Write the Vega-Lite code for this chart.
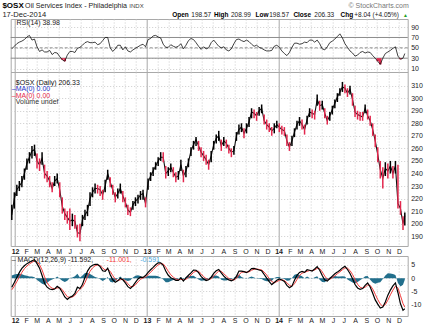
{
"$schema": "https://vega.github.io/schema/vega-lite/v6.json",
"background": "#ffffff",
"padding": {"left": 1.7, "top": 1.0, "right": 0, "bottom": 0},
"spacing": 0,
"bounds": "flush",
"resolve": {"scale": {"x": "independent", "y": "independent"}},
"config": {
  "font": "Liberation Sans",
  "view": {"stroke": "#a9a9a9"},
  "axis": {"labelFont": "Liberation Sans", "labelFontSize": 7, "labelColor": "#222222", "ticks": false, "tickSize": 0, "domain": false, "grid": true, "gridColor": "#cccccc", "gridDash": [1, 2], "title": null, "labelFlush": false, "labelOverlap": false}
},
"datasets": {"w": [
{"d":"2011-12-23","c":207,"hi":215,"lo":203,"u":"u","r":48,"m":-3.4,"s":-4.4,"h":1.0},
{"d":"2011-12-30","c":220,"hi":225,"lo":212,"u":"u","r":53,"m":-1.6,"s":-3.0,"h":1.4},
{"d":"2012-01-06","c":227,"hi":231,"lo":222,"u":"u","r":58,"m":0.3,"s":-1.3,"h":1.6},
{"d":"2012-01-13","c":230,"hi":234,"lo":226,"u":"u","r":61,"m":2.2,"s":0.5,"h":1.7},
{"d":"2012-01-20","c":233,"hi":238,"lo":229,"u":"u","r":63,"m":3.7,"s":2.2,"h":1.5},
{"d":"2012-01-27","c":240,"hi":244,"lo":235,"u":"u","r":66,"m":4.7,"s":3.6,"h":1.1},
{"d":"2012-02-03","c":248,"hi":252,"lo":243,"u":"u","r":71,"m":5.5,"s":4.6,"h":0.9},
{"d":"2012-02-10","c":253,"hi":257,"lo":248,"u":"u","r":74,"m":6.0,"s":5.4,"h":0.6},
{"d":"2012-02-17","c":258,"hi":262,"lo":252,"u":"u","r":65,"m":6.6,"s":6.0,"h":0.6},
{"d":"2012-02-24","c":259,"hi":263,"lo":254,"u":"u","r":67,"m":7.0,"s":6.6,"h":0.4},
{"d":"2012-03-02","c":250,"hi":256,"lo":244,"u":"d","r":52,"m":5.5,"s":6.2,"h":-0.7},
{"d":"2012-03-09","c":247,"hi":252,"lo":242,"u":"d","r":43,"m":3.8,"s":5.1,"h":-1.3},
{"d":"2012-03-16","c":252,"hi":257,"lo":247,"u":"u","r":46,"m":1.0,"s":3.1,"h":-2.1},
{"d":"2012-03-23","c":240,"hi":247,"lo":236,"u":"d","r":42,"m":-2.0,"s":0.5,"h":-2.5},
{"d":"2012-03-30","c":238,"hi":242,"lo":233,"u":"d","r":42,"m":-3.4,"s":-1.7,"h":-1.7},
{"d":"2012-04-06","c":234,"hi":238,"lo":229,"u":"d","r":45,"m":-4.1,"s":-3.1,"h":-1.0},
{"d":"2012-04-13","c":228,"hi":233,"lo":225,"u":"d","r":37,"m":-4.3,"s":-3.8,"h":-0.5},
{"d":"2012-04-20","c":234,"hi":238,"lo":230,"u":"u","r":41,"m":-4.1,"s":-4.0,"h":-0.1},
{"d":"2012-04-27","c":236,"hi":240,"lo":232,"u":"u","r":40,"m":-3.1,"s":-3.7,"h":0.6},
{"d":"2012-05-04","c":227,"hi":233,"lo":221,"u":"d","r":33,"m":-3.8,"s":-3.6,"h":-0.2},
{"d":"2012-05-11","c":214,"hi":221,"lo":208,"u":"d","r":27,"m":-5.3,"s":-4.3,"h":-1.0},
{"d":"2012-05-18","c":208,"hi":212,"lo":203,"u":"d","r":24,"m":-7.1,"s":-5.7,"h":-1.4},
{"d":"2012-05-25","c":205,"hi":210,"lo":200,"u":"d","r":36,"m":-8.0,"s":-7.0,"h":-1.0},
{"d":"2012-06-01","c":202,"hi":212,"lo":195,"u":"d","r":43,"m":-7.2,"s":-7.3,"h":0.1},
{"d":"2012-06-08","c":203,"hi":208,"lo":198,"u":"u","r":43,"m":-6.8,"s":-7.1,"h":0.3},
{"d":"2012-06-15","c":202,"hi":207,"lo":196,"u":"d","r":41,"m":-5.8,"s":-6.5,"h":0.7},
{"d":"2012-06-22","c":193,"hi":199,"lo":189,"u":"d","r":49,"m":-3.4,"s":-5.1,"h":1.7},
{"d":"2012-06-29","c":192,"hi":200,"lo":186,"u":"d","r":51,"m":-3.9,"s":-4.2,"h":0.3},
{"d":"2012-07-06","c":203,"hi":207,"lo":198,"u":"u","r":55,"m":-2.4,"s":-3.4,"h":1.0},
{"d":"2012-07-13","c":207,"hi":211,"lo":203,"u":"u","r":60,"m":0.3,"s":-1.7,"h":2.0},
{"d":"2012-07-20","c":210,"hi":215,"lo":206,"u":"u","r":62,"m":2.7,"s":0.6,"h":2.1},
{"d":"2012-07-27","c":220,"hi":225,"lo":214,"u":"u","r":60,"m":4.2,"s":2.6,"h":1.6},
{"d":"2012-08-03","c":225,"hi":229,"lo":221,"u":"u","r":60,"m":4.9,"s":3.9,"h":1.0},
{"d":"2012-08-10","c":228,"hi":232,"lo":224,"u":"u","r":61,"m":5.2,"s":4.7,"h":0.5},
{"d":"2012-08-17","c":228,"hi":231,"lo":224,"u":"d","r":56,"m":5.2,"s":5.0,"h":0.2},
{"d":"2012-08-24","c":227,"hi":230,"lo":222,"u":"d","r":58,"m":4.4,"s":4.8,"h":-0.4},
{"d":"2012-08-31","c":223,"hi":227,"lo":219,"u":"d","r":64,"m":2.8,"s":3.9,"h":-1.1},
{"d":"2012-09-07","c":230,"hi":235,"lo":225,"u":"u","r":70,"m":2.6,"s":3.1,"h":-0.5},
{"d":"2012-09-14","c":240,"hi":243,"lo":235,"u":"u","r":70,"m":3.8,"s":3.3,"h":0.5},
{"d":"2012-09-21","c":233,"hi":237,"lo":229,"u":"d","r":50,"m":1.3,"s":2.6,"h":-1.3},
{"d":"2012-09-28","c":227,"hi":231,"lo":223,"u":"d","r":43,"m":-0.6,"s":1.0,"h":-1.6},
{"d":"2012-10-05","c":221,"hi":225,"lo":217,"u":"d","r":48,"m":-1.5,"s":-0.4,"h":-1.1},
{"d":"2012-10-12","c":224,"hi":228,"lo":220,"u":"u","r":55,"m":-1.0,"s":-0.9,"h":-0.1},
{"d":"2012-10-19","c":228,"hi":232,"lo":224,"u":"u","r":55,"m":0.0,"s":-0.6,"h":0.6},
{"d":"2012-10-26","c":222,"hi":226,"lo":217,"u":"d","r":46,"m":-0.6,"s":-0.4,"h":-0.2},
{"d":"2012-11-02","c":217,"hi":221,"lo":213,"u":"d","r":52,"m":-1.8,"s":-1.0,"h":-0.8},
{"d":"2012-11-09","c":211,"hi":215,"lo":207,"u":"d","r":44,"m":-3.2,"s":-2.1,"h":-1.1},
{"d":"2012-11-16","c":209,"hi":213,"lo":206,"u":"d","r":42,"m":-3.9,"s":-3.1,"h":-0.8},
{"d":"2012-11-23","c":215,"hi":218,"lo":211,"u":"u","r":46,"m":-2.9,"s":-3.2,"h":0.3},
{"d":"2012-11-30","c":218,"hi":221,"lo":214,"u":"u","r":49,"m":-1.6,"s":-2.5,"h":0.9},
{"d":"2012-12-07","c":220,"hi":223,"lo":216,"u":"u","r":52,"m":-0.3,"s":-1.4,"h":1.1},
{"d":"2012-12-14","c":223,"hi":226,"lo":219,"u":"u","r":55,"m":0.4,"s":-0.4,"h":0.8},
{"d":"2012-12-21","c":224,"hi":227,"lo":219,"u":"u","r":57,"m":0.3,"s":0.1,"h":0.2},
{"d":"2012-12-28","c":216,"hi":221,"lo":213,"u":"d","r":52,"m":1.0,"s":0.5,"h":0.5},
{"d":"2013-01-04","c":233,"hi":236,"lo":227,"u":"u","r":66,"m":2.2,"s":1.3,"h":0.9},
{"d":"2013-01-11","c":238,"hi":241,"lo":234,"u":"u","r":68,"m":3.2,"s":2.3,"h":0.9},
{"d":"2013-01-18","c":242,"hi":245,"lo":238,"u":"u","r":73,"m":4.1,"s":3.2,"h":0.9},
{"d":"2013-01-25","c":246,"hi":249,"lo":243,"u":"u","r":74,"m":5.1,"s":4.2,"h":0.9},
{"d":"2013-02-01","c":250,"hi":253,"lo":246,"u":"u","r":71,"m":5.8,"s":5.1,"h":0.7},
{"d":"2013-02-08","c":253,"hi":257,"lo":250,"u":"u","r":69,"m":5.8,"s":5.5,"h":0.3},
{"d":"2013-02-15","c":253,"hi":257,"lo":249,"u":"d","r":57,"m":4.9,"s":5.4,"h":-0.5},
{"d":"2013-02-22","c":240,"hi":246,"lo":236,"u":"d","r":51,"m":2.7,"s":4.2,"h":-1.5},
{"d":"2013-03-01","c":242,"hi":245,"lo":238,"u":"u","r":51,"m":1.1,"s":2.6,"h":-1.5},
{"d":"2013-03-08","c":245,"hi":248,"lo":241,"u":"u","r":56,"m":0.2,"s":1.3,"h":-1.1},
{"d":"2013-03-15","c":241,"hi":245,"lo":237,"u":"d","r":53,"m":-0.3,"s":0.4,"h":-0.7},
{"d":"2013-03-22","c":237,"hi":241,"lo":233,"u":"d","r":51,"m":-0.8,"s":-0.3,"h":-0.5},
{"d":"2013-03-29","c":238,"hi":242,"lo":235,"u":"u","r":53,"m":-0.8,"s":-0.6,"h":-0.2},
{"d":"2013-04-05","c":247,"hi":251,"lo":242,"u":"u","r":58,"m":0.1,"s":-0.4,"h":0.5},
{"d":"2013-04-12","c":238,"hi":243,"lo":233,"u":"d","r":48,"m":-1.1,"s":-0.6,"h":-0.5},
{"d":"2013-04-19","c":242,"hi":246,"lo":237,"u":"u","r":55,"m":0.1,"s":-0.4,"h":0.5},
{"d":"2013-04-26","c":249,"hi":252,"lo":245,"u":"u","r":64,"m":1.1,"s":0.3,"h":0.8},
{"d":"2013-05-03","c":258,"hi":261,"lo":254,"u":"u","r":68,"m":2.0,"s":1.2,"h":0.8},
{"d":"2013-05-10","c":263,"hi":266,"lo":259,"u":"u","r":66,"m":3.1,"s":2.2,"h":0.9},
{"d":"2013-05-17","c":267,"hi":269,"lo":262,"u":"u","r":60,"m":3.0,"s":2.7,"h":0.3},
{"d":"2013-05-24","c":262,"hi":266,"lo":258,"u":"d","r":53,"m":2.1,"s":2.6,"h":-0.5},
{"d":"2013-05-31","c":257,"hi":261,"lo":253,"u":"d","r":47,"m":0.7,"s":1.7,"h":-1.0},
{"d":"2013-06-07","c":254,"hi":258,"lo":250,"u":"d","r":52,"m":-0.3,"s":0.6,"h":-0.9},
{"d":"2013-06-14","c":251,"hi":255,"lo":247,"u":"d","r":48,"m":-0.9,"s":-0.2,"h":-0.7},
{"d":"2013-06-21","c":247,"hi":251,"lo":243,"u":"d","r":50,"m":-0.6,"s":-0.5,"h":-0.1},
{"d":"2013-06-28","c":254,"hi":258,"lo":249,"u":"u","r":60,"m":0.4,"s":-0.2,"h":0.6},
{"d":"2013-07-05","c":263,"hi":266,"lo":259,"u":"u","r":65,"m":1.8,"s":0.8,"h":1.0},
{"d":"2013-07-12","c":268,"hi":271,"lo":264,"u":"u","r":59,"m":2.8,"s":1.8,"h":1.0},
{"d":"2013-07-19","c":270,"hi":274,"lo":266,"u":"u","r":53,"m":3.3,"s":2.7,"h":0.6},
{"d":"2013-07-26","c":262,"hi":267,"lo":258,"u":"d","r":50,"m":2.0,"s":2.6,"h":-0.6},
{"d":"2013-08-02","c":266,"hi":269,"lo":262,"u":"u","r":52,"m":0.8,"s":1.7,"h":-0.9},
{"d":"2013-08-09","c":264,"hi":267,"lo":260,"u":"d","r":46,"m":-0.1,"s":0.8,"h":-0.9},
{"d":"2013-08-16","c":260,"hi":263,"lo":256,"u":"d","r":44,"m":-0.7,"s":-0.1,"h":-0.6},
{"d":"2013-08-23","c":257,"hi":260,"lo":253,"u":"d","r":48,"m":-1.0,"s":-0.6,"h":-0.4},
{"d":"2013-08-30","c":258,"hi":262,"lo":255,"u":"u","r":58,"m":-0.5,"s":-0.7,"h":0.2},
{"d":"2013-09-06","c":270,"hi":273,"lo":266,"u":"u","r":66,"m":0.7,"s":-0.1,"h":0.8},
{"d":"2013-09-13","c":275,"hi":279,"lo":271,"u":"u","r":67,"m":2.7,"s":1.3,"h":1.4},
{"d":"2013-09-20","c":277,"hi":280,"lo":273,"u":"u","r":64,"m":2.7,"s":2.2,"h":0.5},
{"d":"2013-09-27","c":272,"hi":276,"lo":268,"u":"d","r":62,"m":2.5,"s":2.4,"h":0.1},
{"d":"2013-10-04","c":276,"hi":280,"lo":272,"u":"u","r":65,"m":2.1,"s":2.3,"h":-0.2},
{"d":"2013-10-11","c":281,"hi":285,"lo":277,"u":"u","r":62,"m":2.7,"s":2.4,"h":0.3},
{"d":"2013-10-18","c":289,"hi":292,"lo":284,"u":"u","r":57,"m":3.6,"s":3.0,"h":0.6},
{"d":"2013-10-25","c":288,"hi":291,"lo":284,"u":"d","r":53,"m":3.7,"s":3.4,"h":0.3},
{"d":"2013-11-01","c":286,"hi":289,"lo":282,"u":"d","r":55,"m":3.4,"s":3.5,"h":-0.1},
{"d":"2013-11-08","c":290,"hi":293,"lo":286,"u":"u","r":51,"m":3.1,"s":3.3,"h":-0.2},
{"d":"2013-11-15","c":292,"hi":295,"lo":288,"u":"u","r":49,"m":2.8,"s":3.1,"h":-0.3},
{"d":"2013-11-22","c":282,"hi":287,"lo":279,"u":"d","r":46,"m":1.4,"s":2.3,"h":-0.9},
{"d":"2013-11-29","c":279,"hi":283,"lo":275,"u":"d","r":44,"m":0.0,"s":1.2,"h":-1.2},
{"d":"2013-12-06","c":277,"hi":280,"lo":273,"u":"d","r":44,"m":-1.3,"s":-0.1,"h":-1.2},
{"d":"2013-12-13","c":274,"hi":277,"lo":270,"u":"d","r":45,"m":-2.4,"s":-1.3,"h":-1.1},
{"d":"2013-12-20","c":276,"hi":280,"lo":272,"u":"u","r":53,"m":-1.6,"s":-1.7,"h":0.1},
{"d":"2013-12-27","c":279,"hi":282,"lo":276,"u":"u","r":55,"m":-0.8,"s":-1.3,"h":0.5},
{"d":"2014-01-03","c":277,"hi":280,"lo":273,"u":"d","r":51,"m":-0.3,"s":-0.8,"h":0.5},
{"d":"2014-01-10","c":275,"hi":278,"lo":271,"u":"d","r":44,"m":-0.7,"s":-0.6,"h":-0.1},
{"d":"2014-01-17","c":274,"hi":277,"lo":270,"u":"d","r":39,"m":-1.2,"s":-0.9,"h":-0.3},
{"d":"2014-01-24","c":266,"hi":271,"lo":262,"u":"d","r":35,"m":-2.7,"s":-1.7,"h":-1.0},
{"d":"2014-01-31","c":261,"hi":265,"lo":258,"u":"d","r":41,"m":-3.6,"s":-2.7,"h":-0.9},
{"d":"2014-02-07","c":266,"hi":270,"lo":262,"u":"u","r":51,"m":-3.0,"s":-3.1,"h":0.1},
{"d":"2014-02-14","c":273,"hi":276,"lo":269,"u":"u","r":59,"m":-0.8,"s":-2.1,"h":1.3},
{"d":"2014-02-21","c":279,"hi":282,"lo":275,"u":"u","r":59,"m":1.1,"s":-0.5,"h":1.6},
{"d":"2014-02-28","c":282,"hi":285,"lo":278,"u":"u","r":57,"m":2.2,"s":1.0,"h":1.2},
{"d":"2014-03-07","c":279,"hi":283,"lo":275,"u":"d","r":58,"m":2.6,"s":1.9,"h":0.7},
{"d":"2014-03-14","c":275,"hi":279,"lo":271,"u":"d","r":61,"m":2.2,"s":2.2,"h":0.0},
{"d":"2014-03-21","c":283,"hi":286,"lo":279,"u":"u","r":60,"m":3.2,"s":2.6,"h":0.6},
{"d":"2014-03-28","c":289,"hi":292,"lo":285,"u":"u","r":65,"m":3.0,"s":2.9,"h":0.1},
{"d":"2014-04-04","c":288,"hi":291,"lo":284,"u":"d","r":65,"m":2.7,"s":2.9,"h":-0.2},
{"d":"2014-04-11","c":287,"hi":290,"lo":283,"u":"d","r":61,"m":3.5,"s":3.1,"h":0.4},
{"d":"2014-04-18","c":299,"hi":303,"lo":294,"u":"u","r":65,"m":4.4,"s":3.7,"h":0.7},
{"d":"2014-04-25","c":294,"hi":298,"lo":290,"u":"d","r":58,"m":3.0,"s":3.6,"h":-0.6},
{"d":"2014-05-02","c":295,"hi":298,"lo":291,"u":"u","r":48,"m":1.0,"s":2.4,"h":-1.4},
{"d":"2014-05-09","c":288,"hi":292,"lo":284,"u":"d","r":46,"m":-0.7,"s":0.8,"h":-1.5},
{"d":"2014-05-16","c":282,"hi":286,"lo":279,"u":"d","r":52,"m":-1.1,"s":-0.4,"h":-0.7},
{"d":"2014-05-23","c":286,"hi":289,"lo":282,"u":"u","r":60,"m":-0.1,"s":-0.4,"h":0.3},
{"d":"2014-05-30","c":291,"hi":294,"lo":287,"u":"u","r":63,"m":0.8,"s":0.2,"h":0.6},
{"d":"2014-06-06","c":296,"hi":299,"lo":292,"u":"u","r":67,"m":1.7,"s":0.9,"h":0.8},
{"d":"2014-06-13","c":301,"hi":304,"lo":297,"u":"u","r":72,"m":2.3,"s":1.7,"h":0.6},
{"d":"2014-06-20","c":305,"hi":308,"lo":302,"u":"u","r":77,"m":3.0,"s":2.4,"h":0.6},
{"d":"2014-06-27","c":309,"hi":313,"lo":305,"u":"u","r":69,"m":3.9,"s":3.2,"h":0.7},
{"d":"2014-07-04","c":308,"hi":311,"lo":304,"u":"d","r":58,"m":4.5,"s":3.9,"h":0.6},
{"d":"2014-07-11","c":304,"hi":308,"lo":301,"u":"d","r":51,"m":3.3,"s":3.8,"h":-0.5},
{"d":"2014-07-18","c":307,"hi":310,"lo":303,"u":"u","r":44,"m":1.8,"s":2.9,"h":-1.1},
{"d":"2014-07-25","c":299,"hi":304,"lo":294,"u":"d","r":40,"m":-0.2,"s":1.4,"h":-1.6},
{"d":"2014-08-01","c":289,"hi":294,"lo":285,"u":"d","r":34,"m":-2.4,"s":-0.5,"h":-1.9},
{"d":"2014-08-08","c":287,"hi":290,"lo":283,"u":"d","r":36,"m":-3.7,"s":-2.3,"h":-1.4},
{"d":"2014-08-15","c":286,"hi":289,"lo":282,"u":"d","r":41,"m":-4.2,"s":-3.4,"h":-0.8},
{"d":"2014-08-22","c":285,"hi":289,"lo":282,"u":"d","r":43,"m":-3.9,"s":-3.8,"h":-0.1},
{"d":"2014-08-29","c":292,"hi":295,"lo":288,"u":"u","r":40,"m":-2.7,"s":-3.4,"h":0.7},
{"d":"2014-09-05","c":286,"hi":291,"lo":283,"u":"d","r":42,"m":-1.8,"s":-2.6,"h":0.8},
{"d":"2014-09-12","c":282,"hi":286,"lo":278,"u":"d","r":41,"m":-3.3,"s":-2.7,"h":-0.6},
{"d":"2014-09-19","c":275,"hi":280,"lo":270,"u":"d","r":35,"m":-5.7,"s":-4.1,"h":-1.6},
{"d":"2014-09-26","c":266,"hi":271,"lo":261,"u":"d","r":30,"m":-8.2,"s":-6.1,"h":-2.1},
{"d":"2014-10-03","c":255,"hi":261,"lo":249,"u":"d","r":24,"m":-9.8,"s":-8.1,"h":-1.7},
{"d":"2014-10-10","c":243,"hi":250,"lo":236,"u":"d","r":18,"m":-11.3,"s":-9.8,"h":-1.5},
{"d":"2014-10-17","c":236,"hi":245,"lo":228,"u":"d","r":30,"m":-10.9,"s":-10.6,"h":-0.3},
{"d":"2014-10-24","c":244,"hi":249,"lo":238,"u":"u","r":39,"m":-9.0,"s":-10.0,"h":1.0},
{"d":"2014-10-31","c":242,"hi":248,"lo":236,"u":"d","r":42,"m":-6.4,"s":-8.3,"h":1.9},
{"d":"2014-11-07","c":246,"hi":250,"lo":240,"u":"u","r":45,"m":-4.5,"s":-6.3,"h":1.8},
{"d":"2014-11-14","c":240,"hi":246,"lo":236,"u":"d","r":49,"m":-2.9,"s":-4.5,"h":1.6},
{"d":"2014-11-21","c":246,"hi":250,"lo":240,"u":"u","r":52,"m":-1.8,"s":-3.0,"h":1.2},
{"d":"2014-11-28","c":216,"hi":247,"lo":212,"u":"d","r":34,"m":-5.5,"s":-3.7,"h":-1.8},
{"d":"2014-12-05","c":212,"hi":218,"lo":207,"u":"d","r":28,"m":-9.7,"s":-6.6,"h":-3.1},
{"d":"2014-12-12","c":200,"hi":206,"lo":195,"u":"d","r":30,"m":-12.1,"s":-9.6,"h":-2.5},
{"d":"2014-12-17","c":206.33,"hi":208.99,"lo":198.57,"u":"u","r":38.98,"m":-11.592,"s":-11.001,"h":-0.591}
]},
"vconcat": [
{
  "width": 397, "height": 53,
  "data": {"name": "w"},
  "layer": [
    {"data": {"values": [{"v": 70}, {"v": 30}]}, "mark": {"type": "rule", "color": "#8c8c8c", "strokeWidth": 1},
     "encoding": {"y": {"field": "v", "type": "quantitative", "scale": {"domain": [3.3, 105.7], "nice": false, "zero": false}, "axis": {"orient": "right", "values": [10, 30, 50, 70, 90], "tickCount": 50, "labelPadding": 3, "labelOverlap": false}}}},
    {"data": {"values": [{"v": 50}]}, "mark": {"type": "rule", "color": "#8c8c8c", "strokeWidth": 1, "strokeDash": [3, 2]},
     "encoding": {"y": {"field": "v", "type": "quantitative", "scale": {"domain": [3.3, 105.7], "nice": false, "zero": false}}}},
    {"transform": [{"filter": "datum.r < 30"}], "mark": {"type": "rule", "color": "#e3274d", "strokeWidth": 2.5},
     "encoding": {
       "x": {"field": "d", "type": "temporal", "scale": {"type": "utc", "domain": [{"year": 2011, "month": 12, "date": 20, "utc": true}, {"year": 2014, "month": 12, "date": 25, "utc": true}]}},
       "y": {"field": "r", "type": "quantitative", "scale": {"domain": [3.3, 105.7], "nice": false, "zero": false}},
       "y2": {"datum": 30}}},
    {"mark": {"type": "line", "color": "#111111", "strokeWidth": 0.8},
     "encoding": {
       "x": {"field": "d", "type": "temporal", "scale": {"type": "utc", "domain": [{"year": 2011, "month": 12, "date": 20, "utc": true}, {"year": 2014, "month": 12, "date": 25, "utc": true}]},
             "axis": {"labels": false, "tickCount": {"interval": "month", "step": 1}, "minExtent": 0, "maxExtent": 0,
                      "gridDash": {"condition": {"test": "utcmonth(datum.value) == 0", "value": []}, "value": [1, 2]},
                      "gridColor": {"condition": {"test": "utcmonth(datum.value) == 0", "value": "#a8a8a8"}, "value": "#cccccc"}}},
       "y": {"field": "r", "type": "quantitative", "scale": {"domain": [3.3, 105.7], "nice": false, "zero": false}}}},
    {"data": {"values": [{}]}, "mark": {"type": "text", "text": "$OSX", "align": "left", "baseline": "middle", "fontSize": 8, "fontWeight": "bold", "color": "#000000"},
     "encoding": {"x": {"datum": {"year": 2011, "month": 11, "date": 27, "utc": true}, "type": "temporal", "scale": {"type": "utc", "domain": [{"year": 2011, "month": 12, "date": 20, "utc": true}, {"year": 2014, "month": 12, "date": 25, "utc": true}]}},
                  "y": {"datum": 130.2, "type": "quantitative", "scale": {"domain": [3.3, 105.7], "nice": false, "zero": false}}}},
    {"data": {"values": [{}]}, "mark": {"type": "text", "text": "Oil Services Index - Philadelphia", "align": "left", "baseline": "middle", "fontSize": 7.1, "color": "#222222"},
     "encoding": {"x": {"datum": {"year": 2012, "month": 1, "date": 29, "utc": true}, "type": "temporal", "scale": {"type": "utc", "domain": [{"year": 2011, "month": 12, "date": 20, "utc": true}, {"year": 2014, "month": 12, "date": 25, "utc": true}]}},
                  "y": {"datum": 130.2, "type": "quantitative", "scale": {"domain": [3.3, 105.7], "nice": false, "zero": false}}}},
    {"data": {"values": [{}]}, "mark": {"type": "text", "text": "INDX", "align": "left", "baseline": "middle", "fontSize": 6, "color": "#444444"},
     "encoding": {"x": {"datum": {"year": 2012, "month": 11, "date": 13, "utc": true}, "type": "temporal", "scale": {"type": "utc", "domain": [{"year": 2011, "month": 12, "date": 20, "utc": true}, {"year": 2014, "month": 12, "date": 25, "utc": true}]}},
                  "y": {"datum": 130.2, "type": "quantitative", "scale": {"domain": [3.3, 105.7], "nice": false, "zero": false}}}},
    {"data": {"values": [{}]}, "mark": {"type": "text", "text": "© StockCharts.com", "align": "right", "baseline": "middle", "fontSize": 7, "color": "#777777"},
     "encoding": {"x": {"datum": {"year": 2014, "month": 12, "date": 28, "utc": true}, "type": "temporal", "scale": {"type": "utc", "domain": [{"year": 2011, "month": 12, "date": 20, "utc": true}, {"year": 2014, "month": 12, "date": 25, "utc": true}]}},
                  "y": {"datum": 130.2, "type": "quantitative", "scale": {"domain": [3.3, 105.7], "nice": false, "zero": false}}}},
    {"data": {"values": [{}]}, "mark": {"type": "text", "text": "17-Dec-2014", "align": "left", "baseline": "middle", "fontSize": 7.6, "color": "#222222"},
     "encoding": {"x": {"datum": {"year": 2011, "month": 11, "date": 27, "utc": true}, "type": "temporal", "scale": {"type": "utc", "domain": [{"year": 2011, "month": 12, "date": 20, "utc": true}, {"year": 2014, "month": 12, "date": 25, "utc": true}]}},
                  "y": {"datum": 114.4, "type": "quantitative", "scale": {"domain": [3.3, 105.7], "nice": false, "zero": false}}}},
    {"data": {"values": [{}]}, "mark": {"type": "text", "text": "Open", "align": "left", "baseline": "middle", "fontSize": 6.5, "fontWeight": "bold", "color": "#000000"},
     "encoding": {"x": {"datum": {"year": 2013, "month": 3, "date": 12, "utc": true}, "type": "temporal", "scale": {"type": "utc", "domain": [{"year": 2011, "month": 12, "date": 20, "utc": true}, {"year": 2014, "month": 12, "date": 25, "utc": true}]}},
                  "y": {"datum": 114.4, "type": "quantitative", "scale": {"domain": [3.3, 105.7], "nice": false, "zero": false}}}},
    {"data": {"values": [{}]}, "mark": {"type": "text", "text": "198.57", "align": "left", "baseline": "middle", "fontSize": 6.5, "color": "#222222"},
     "encoding": {"x": {"datum": {"year": 2013, "month": 5, "date": 4, "utc": true}, "type": "temporal", "scale": {"type": "utc", "domain": [{"year": 2011, "month": 12, "date": 20, "utc": true}, {"year": 2014, "month": 12, "date": 25, "utc": true}]}},
                  "y": {"datum": 114.4, "type": "quantitative", "scale": {"domain": [3.3, 105.7], "nice": false, "zero": false}}}},
    {"data": {"values": [{}]}, "mark": {"type": "text", "text": "High", "align": "left", "baseline": "middle", "fontSize": 6.5, "fontWeight": "bold", "color": "#000000"},
     "encoding": {"x": {"datum": {"year": 2013, "month": 7, "date": 6, "utc": true}, "type": "temporal", "scale": {"type": "utc", "domain": [{"year": 2011, "month": 12, "date": 20, "utc": true}, {"year": 2014, "month": 12, "date": 25, "utc": true}]}},
                  "y": {"datum": 114.4, "type": "quantitative", "scale": {"domain": [3.3, 105.7], "nice": false, "zero": false}}}},
    {"data": {"values": [{}]}, "mark": {"type": "text", "text": "208.99", "align": "left", "baseline": "middle", "fontSize": 6.5, "color": "#222222"},
     "encoding": {"x": {"datum": {"year": 2013, "month": 8, "date": 22, "utc": true}, "type": "temporal", "scale": {"type": "utc", "domain": [{"year": 2011, "month": 12, "date": 20, "utc": true}, {"year": 2014, "month": 12, "date": 25, "utc": true}]}},
                  "y": {"datum": 114.4, "type": "quantitative", "scale": {"domain": [3.3, 105.7], "nice": false, "zero": false}}}},
    {"data": {"values": [{}]}, "mark": {"type": "text", "text": "Low", "align": "left", "baseline": "middle", "fontSize": 6.5, "fontWeight": "bold", "color": "#000000"},
     "encoding": {"x": {"datum": {"year": 2013, "month": 10, "date": 29, "utc": true}, "type": "temporal", "scale": {"type": "utc", "domain": [{"year": 2011, "month": 12, "date": 20, "utc": true}, {"year": 2014, "month": 12, "date": 25, "utc": true}]}},
                  "y": {"datum": 114.4, "type": "quantitative", "scale": {"domain": [3.3, 105.7], "nice": false, "zero": false}}}},
    {"data": {"values": [{}]}, "mark": {"type": "text", "text": "198.57", "align": "left", "baseline": "middle", "fontSize": 6.5, "color": "#222222"},
     "encoding": {"x": {"datum": {"year": 2013, "month": 12, "date": 6, "utc": true}, "type": "temporal", "scale": {"type": "utc", "domain": [{"year": 2011, "month": 12, "date": 20, "utc": true}, {"year": 2014, "month": 12, "date": 25, "utc": true}]}},
                  "y": {"datum": 114.4, "type": "quantitative", "scale": {"domain": [3.3, 105.7], "nice": false, "zero": false}}}},
    {"data": {"values": [{}]}, "mark": {"type": "text", "text": "Close", "align": "left", "baseline": "middle", "fontSize": 6.5, "fontWeight": "bold", "color": "#000000"},
     "encoding": {"x": {"datum": {"year": 2014, "month": 2, "date": 11, "utc": true}, "type": "temporal", "scale": {"type": "utc", "domain": [{"year": 2011, "month": 12, "date": 20, "utc": true}, {"year": 2014, "month": 12, "date": 25, "utc": true}]}},
                  "y": {"datum": 114.4, "type": "quantitative", "scale": {"domain": [3.3, 105.7], "nice": false, "zero": false}}}},
    {"data": {"values": [{}]}, "mark": {"type": "text", "text": "206.33", "align": "left", "baseline": "middle", "fontSize": 6.5, "color": "#222222"},
     "encoding": {"x": {"datum": {"year": 2014, "month": 4, "date": 10, "utc": true}, "type": "temporal", "scale": {"type": "utc", "domain": [{"year": 2011, "month": 12, "date": 20, "utc": true}, {"year": 2014, "month": 12, "date": 25, "utc": true}]}},
                  "y": {"datum": 114.4, "type": "quantitative", "scale": {"domain": [3.3, 105.7], "nice": false, "zero": false}}}},
    {"data": {"values": [{}]}, "mark": {"type": "text", "text": "Chg", "align": "left", "baseline": "middle", "fontSize": 6.5, "fontWeight": "bold", "color": "#000000"},
     "encoding": {"x": {"datum": {"year": 2014, "month": 6, "date": 22, "utc": true}, "type": "temporal", "scale": {"type": "utc", "domain": [{"year": 2011, "month": 12, "date": 20, "utc": true}, {"year": 2014, "month": 12, "date": 25, "utc": true}]}},
                  "y": {"datum": 114.4, "type": "quantitative", "scale": {"domain": [3.3, 105.7], "nice": false, "zero": false}}}},
    {"data": {"values": [{}]}, "mark": {"type": "text", "text": "+8.04 (+4.05%)", "align": "left", "baseline": "middle", "fontSize": 6.5, "color": "#222222"},
     "encoding": {"x": {"datum": {"year": 2014, "month": 7, "date": 30, "utc": true}, "type": "temporal", "scale": {"type": "utc", "domain": [{"year": 2011, "month": 12, "date": 20, "utc": true}, {"year": 2014, "month": 12, "date": 25, "utc": true}]}},
                  "y": {"datum": 114.4, "type": "quantitative", "scale": {"domain": [3.3, 105.7], "nice": false, "zero": false}}}},
    {"data": {"values": [{}]}, "mark": {"type": "text", "text": "▲", "align": "right", "baseline": "middle", "fontSize": 5, "color": "#22a022"},
     "encoding": {"x": {"datum": {"year": 2014, "month": 12, "date": 26, "utc": true}, "type": "temporal", "scale": {"type": "utc", "domain": [{"year": 2011, "month": 12, "date": 20, "utc": true}, {"year": 2014, "month": 12, "date": 25, "utc": true}]}},
                  "y": {"datum": 114.4, "type": "quantitative", "scale": {"domain": [3.3, 105.7], "nice": false, "zero": false}}}},
    {"data": {"values": [{}]}, "mark": {"type": "text", "text": "RSI(14) 38.98", "align": "left", "baseline": "middle", "fontSize": 7, "color": "#222222"},
     "encoding": {"x": {"datum": {"year": 2012, "month": 1, "date": 5, "utc": true}, "type": "temporal", "scale": {"type": "utc", "domain": [{"year": 2011, "month": 12, "date": 20, "utc": true}, {"year": 2014, "month": 12, "date": 25, "utc": true}]}},
                  "y": {"datum": 98.6, "type": "quantitative", "scale": {"domain": [3.3, 105.7], "nice": false, "zero": false}}}}
  ]
},
{
  "width": 397, "height": 174,
  "data": {"name": "w"},
  "layer": [
    {"mark": {"type": "line", "color": "#111111", "strokeWidth": 1.1},
     "encoding": {
       "x": {"field": "d", "type": "temporal", "scale": {"type": "utc", "domain": [{"year": 2011, "month": 12, "date": 20, "utc": true}, {"year": 2014, "month": 12, "date": 25, "utc": true}]},
             "axis": {"tickCount": {"interval": "month", "step": 1}, "labelPadding": 1.5, "labelColor": "#222222",
                      "labelExpr": "utcmonth(datum.value) == 0 ? utcFormat(datum.value, '%y') : slice(utcFormat(datum.value, '%b'), 0, 1)",
                      "labelFontWeight": {"condition": {"test": "utcmonth(datum.value) == 0", "value": "bold"}, "value": "normal"},
                      "gridDash": {"condition": {"test": "utcmonth(datum.value) == 0", "value": []}, "value": [1, 2]},
                      "gridColor": {"condition": {"test": "utcmonth(datum.value) == 0", "value": "#a8a8a8"}, "value": "#cccccc"}}},
       "y": {"field": "c", "type": "quantitative", "scale": {"domain": [182.2, 320.9], "nice": false, "zero": false}, "axis": {"orient": "right", "values": [190, 200, 210, 220, 230, 240, 250, 260, 270, 280, 290, 300, 310], "tickCount": 50, "labelPadding": 3, "labelOverlap": false}}}},
    {"mark": {"type": "rule", "strokeWidth": 1.5},
     "encoding": {
       "x": {"field": "d", "type": "temporal", "scale": {"type": "utc", "domain": [{"year": 2011, "month": 12, "date": 20, "utc": true}, {"year": 2014, "month": 12, "date": 25, "utc": true}]}},
       "y": {"field": "lo", "type": "quantitative", "scale": {"domain": [182.2, 320.9], "nice": false, "zero": false}},
       "y2": {"field": "hi"},
       "color": {"field": "u", "type": "nominal", "scale": {"domain": ["u", "d"], "range": ["#000000", "#e3274d"]}, "legend": null}}},
    {"data": {"values": [{}]}, "mark": {"type": "text", "text": "$OSX (Daily) 206.33", "align": "left", "baseline": "middle", "fontSize": 7, "color": "#111111"},
     "encoding": {"x": {"datum": {"year": 2012, "month": 1, "date": 3, "utc": true}, "type": "temporal", "scale": {"type": "utc", "domain": [{"year": 2011, "month": 12, "date": 20, "utc": true}, {"year": 2014, "month": 12, "date": 25, "utc": true}]}},
                  "y": {"datum": 312.4, "type": "quantitative", "scale": {"domain": [182.2, 320.9], "nice": false, "zero": false}}}},
    {"data": {"values": [{}]}, "mark": {"type": "text", "text": "–MA(0) 0.00", "align": "left", "baseline": "middle", "fontSize": 7, "color": "#2430c8"},
     "encoding": {"x": {"datum": {"year": 2011, "month": 12, "date": 23, "utc": true}, "type": "temporal", "scale": {"type": "utc", "domain": [{"year": 2011, "month": 12, "date": 20, "utc": true}, {"year": 2014, "month": 12, "date": 25, "utc": true}]}},
                  "y": {"datum": 307.1, "type": "quantitative", "scale": {"domain": [182.2, 320.9], "nice": false, "zero": false}}}},
    {"data": {"values": [{}]}, "mark": {"type": "text", "text": "–MA(0) 0.00", "align": "left", "baseline": "middle", "fontSize": 7, "color": "#e3274d"},
     "encoding": {"x": {"datum": {"year": 2011, "month": 12, "date": 23, "utc": true}, "type": "temporal", "scale": {"type": "utc", "domain": [{"year": 2011, "month": 12, "date": 20, "utc": true}, {"year": 2014, "month": 12, "date": 25, "utc": true}]}},
                  "y": {"datum": 302.0, "type": "quantitative", "scale": {"domain": [182.2, 320.9], "nice": false, "zero": false}}}},
    {"data": {"values": [{}]}, "mark": {"type": "text", "text": "Volume undef", "align": "left", "baseline": "middle", "fontSize": 7, "color": "#333333"},
     "encoding": {"x": {"datum": {"year": 2012, "month": 1, "date": 3, "utc": true}, "type": "temporal", "scale": {"type": "utc", "domain": [{"year": 2011, "month": 12, "date": 20, "utc": true}, {"year": 2014, "month": 12, "date": 25, "utc": true}]}},
                  "y": {"datum": 296.7, "type": "quantitative", "scale": {"domain": [182.2, 320.9], "nice": false, "zero": false}}}}
  ]
},
{
  "width": 397, "height": 10,
  "view": {"stroke": null},
  "data": {"values": [{}]},
  "mark": {"type": "text", "text": ""},
  "encoding": {}
},
{
  "width": 397, "height": 60,
  "data": {"name": "w"},
  "layer": [
    {"mark": {"type": "area", "color": "#226f8c", "opacity": 1},
     "encoding": {
       "x": {"field": "d", "type": "temporal", "scale": {"type": "utc", "domain": [{"year": 2011, "month": 12, "date": 20, "utc": true}, {"year": 2014, "month": 12, "date": 25, "utc": true}]},
             "axis": {"tickCount": {"interval": "month", "step": 1}, "labelPadding": 1, "labelColor": "#222222",
                      "labelExpr": "utcmonth(datum.value) == 0 ? utcFormat(datum.value, '%y') : slice(utcFormat(datum.value, '%b'), 0, 1)",
                      "labelFontWeight": {"condition": {"test": "utcmonth(datum.value) == 0", "value": "bold"}, "value": "normal"},
                      "gridDash": {"condition": {"test": "utcmonth(datum.value) == 0", "value": []}, "value": [1, 2]},
                      "gridColor": {"condition": {"test": "utcmonth(datum.value) == 0", "value": "#a8a8a8"}, "value": "#cccccc"}}},
       "y": {"field": "h", "type": "quantitative", "scale": {"domain": [-14.3, 8.4], "nice": false, "zero": false},
             "axis": {"orient": "right", "values": [5, 0, -5, -10], "tickCount": 50, "labelPadding": 3, "labelOverlap": false, "labelExpr": "datum.value < 0 ? '-' + abs(datum.value) : '' + datum.value"}},
       "y2": {"datum": 0}}},
    {"mark": {"type": "line", "color": "#f23a3a", "strokeWidth": 1},
     "encoding": {
       "x": {"field": "d", "type": "temporal", "scale": {"type": "utc", "domain": [{"year": 2011, "month": 12, "date": 20, "utc": true}, {"year": 2014, "month": 12, "date": 25, "utc": true}]}},
       "y": {"field": "s", "type": "quantitative", "scale": {"domain": [-14.3, 8.4], "nice": false, "zero": false}}}},
    {"mark": {"type": "line", "color": "#000000", "strokeWidth": 1.2},
     "encoding": {
       "x": {"field": "d", "type": "temporal", "scale": {"type": "utc", "domain": [{"year": 2011, "month": 12, "date": 20, "utc": true}, {"year": 2014, "month": 12, "date": 25, "utc": true}]}},
       "y": {"field": "m", "type": "quantitative", "scale": {"domain": [-14.3, 8.4], "nice": false, "zero": false}}}},
    {"data": {"values": [{}]}, "mark": {"type": "text", "text": "– MACD(12,26,9) -11.592,", "align": "left", "baseline": "middle", "fontSize": 7, "color": "#111111"},
     "encoding": {"x": {"datum": {"year": 2011, "month": 12, "date": 23, "utc": true}, "type": "temporal", "scale": {"type": "utc", "domain": [{"year": 2011, "month": 12, "date": 20, "utc": true}, {"year": 2014, "month": 12, "date": 25, "utc": true}]}},
                  "y": {"datum": 6.8, "type": "quantitative", "scale": {"domain": [-14.3, 8.4], "nice": false, "zero": false}}}},
    {"data": {"values": [{}]}, "mark": {"type": "text", "text": "-11.001,", "align": "left", "baseline": "middle", "fontSize": 7, "color": "#f23a3a"},
     "encoding": {"x": {"datum": {"year": 2012, "month": 9, "date": 11, "utc": true}, "type": "temporal", "scale": {"type": "utc", "domain": [{"year": 2011, "month": 12, "date": 20, "utc": true}, {"year": 2014, "month": 12, "date": 25, "utc": true}]}},
                  "y": {"datum": 6.8, "type": "quantitative", "scale": {"domain": [-14.3, 8.4], "nice": false, "zero": false}}}},
    {"data": {"values": [{}]}, "mark": {"type": "text", "text": "-0.591", "align": "left", "baseline": "middle", "fontSize": 7, "color": "#4aa8de"},
     "encoding": {"x": {"datum": {"year": 2012, "month": 12, "date": 13, "utc": true}, "type": "temporal", "scale": {"type": "utc", "domain": [{"year": 2011, "month": 12, "date": 20, "utc": true}, {"year": 2014, "month": 12, "date": 25, "utc": true}]}},
                  "y": {"datum": 6.8, "type": "quantitative", "scale": {"domain": [-14.3, 8.4], "nice": false, "zero": false}}}}
  ]
}
]
}
